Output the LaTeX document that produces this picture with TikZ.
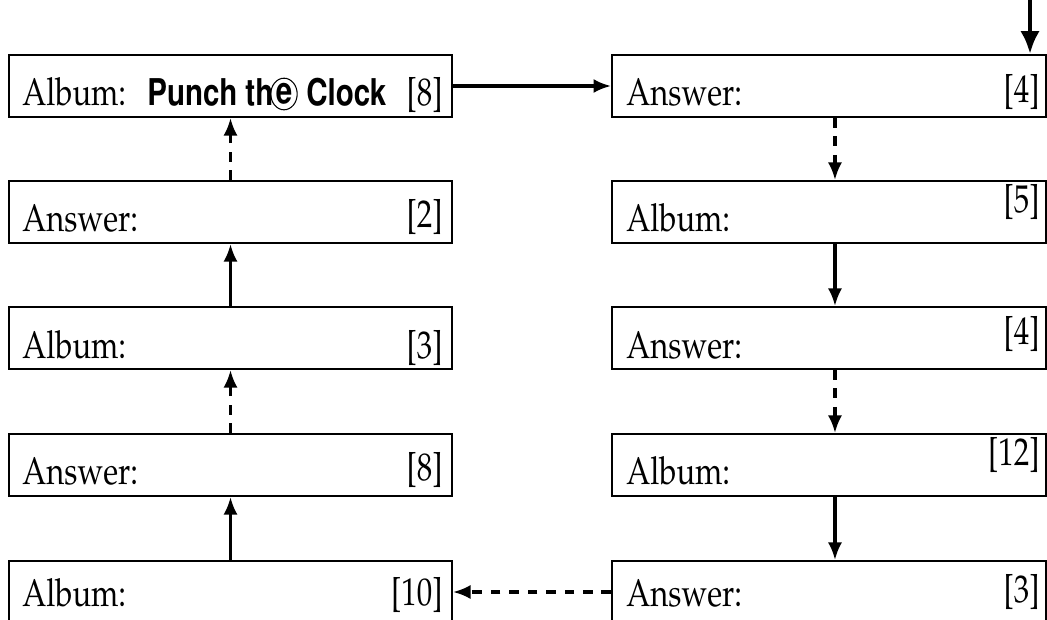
\documentclass[tikz,border=0pt]{standalone}
\usepackage[T1]{fontenc}
\usepackage{mathpazo}
\usetikzlibrary{arrows.meta,shapes.geometric}

\newcommand{\narrow}[1]{\scalebox{0.8}[1]{#1}}

\tikzset{
  box/.style={draw,line width=1.1pt,inner sep=0pt,minimum height=1.24cm},
  word/.style={anchor=base west,inner sep=0pt,font=\fontsize{22}{26}\selectfont},
  num/.style={anchor=base east,inner sep=0pt,font=\fontsize{22}{26}\selectfont},
  title/.style={anchor=base west,inner sep=0pt,
    font=\fontfamily{phv}\fontseries{b}\fontsize{21}{25}\selectfont},
  link/.style={line width=1.8pt,-{Latex[length=10pt,width=8pt]}},
  dlink/.style={link,dash pattern=on 5.5pt off 5pt},
}

\begin{document}
\begin{tikzpicture}[x=0.02cm,y=-0.02cm]
  \useasboundingbox (0,0) rectangle (1047,619);

  % left column
  \node[box,minimum width=8.86cm] (L1) at (230.5,86) {};
  \node[box,minimum width=8.86cm] (L2) at (230.5,212) {};
  \node[box,minimum width=8.86cm] (L3) at (230.5,338) {};
  \node[box,minimum width=8.86cm] (L4) at (230.5,465) {};
  \node[box,minimum width=8.86cm] (L5) at (230.5,592) {};

  % right column
  \node[box,minimum width=8.68cm] (R1) at (829,86) {};
  \node[box,minimum width=8.68cm] (R2) at (829,212) {};
  \node[box,minimum width=8.68cm] (R3) at (829,338) {};
  \node[box,minimum width=8.68cm] (R4) at (829,465) {};
  \node[box,minimum width=8.68cm] (R5) at (829,592) {};

  % texts
  \node[word] (L1t) at (22,105) {\narrow{Album:}};
  \node[title] (L1a) at (147,105) {\narrow{Punch th}};
  \node[draw,ellipse,line width=0.6pt,inner sep=0pt,minimum width=15pt,minimum height=18pt,
    font=\fontfamily{phv}\fontseries{b}\fontsize{21}{25}\selectfont] (L1e) at (284,94) {\narrow{e}};
  \node[title] (L1b) at (306,105) {\narrow{Clock}};
  \node[num] (L1n) at (443,105) {\narrow{[8]}};
  \node[word] (L2t) at (22,231) {\narrow{Answer:}};
  \node[num] (L2n) at (443,227) {\narrow{[2]}};
  \node[word] (L3t) at (22,358) {\narrow{Album:}};
  \node[num] (L3n) at (443,358) {\narrow{[3]}};
  \node[word] (L4t) at (22,484) {\narrow{Answer:}};
  \node[num] (L4n) at (443,480) {\narrow{[8]}};
  \node[word] (L5t) at (22,606) {\narrow{Album:}};
  \node[num] (L5n) at (443,605) {\narrow{[10]}};

  \node[word] (R1t) at (626,105) {\narrow{Answer:}};
  \node[num] (R1n) at (1040,102) {\narrow{[4]}};
  \node[word] (R2t) at (626,231) {\narrow{Album:}};
  \node[num] (R2n) at (1040,212) {\narrow{[5]}};
  \node[word] (R3t) at (626,358) {\narrow{Answer:}};
  \node[num] (R3n) at (1040,344) {\narrow{[4]}};
  \node[word] (R4t) at (626,484) {\narrow{Album:}};
  \node[num] (R4n) at (1040,465) {\narrow{[12]}};
  \node[word] (R5t) at (626,606) {\narrow{Answer:}};
  \node[num] (R5n) at (1040,602) {\narrow{[3]}};

  % entry arrow
  \coordinate (entry) at (1030,0);
  \draw[line width=2.8pt,-{Latex[length=13pt,width=11pt]}] (entry) -- (entry |- R1.north);

  \begin{scope}
    \draw[link] (L1) -- (R1);
    \draw[dlink] ([xshift=3.4pt]R1.south) -- ([xshift=3.4pt]R2.north);
    \draw[link] ([xshift=3.4pt]R2.south) -- ([xshift=3.4pt]R3.north);
    \draw[dlink] ([xshift=3.4pt]R3.south) -- ([xshift=3.4pt]R4.north);
    \draw[link] ([xshift=3.4pt]R4.south) -- ([xshift=3.4pt]R5.north);
    \draw[dlink] (R5) -- (L5);
    \draw[link] (L5) -- (L4);
    \draw[dlink] (L4) -- (L3);
    \draw[link] (L3) -- (L2);
    \draw[dlink] (L2) -- (L1);
  \end{scope}
\end{tikzpicture}
\end{document}
